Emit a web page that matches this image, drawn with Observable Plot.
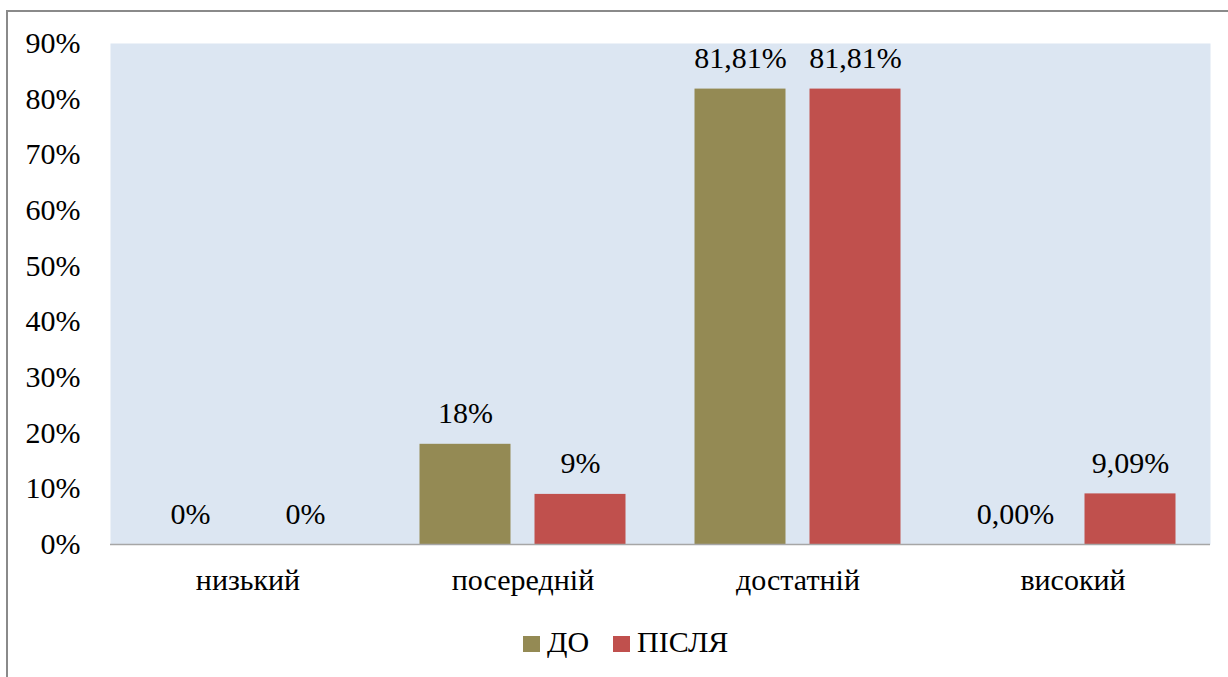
<!DOCTYPE html>
<html>
<head>
<meta charset="utf-8">
<script src="https://cdn.jsdelivr.net/npm/d3@7"></script>
<script src="https://cdn.jsdelivr.net/npm/@observablehq/plot@0.6"></script>
<style>
  html, body { margin: 0; padding: 0; background: #fff; }
  body { width: 1228px; height: 677px; position: relative; overflow: hidden; font-family: 'Liberation Serif', serif !important; }
  #border { position: absolute; left: 6px; top: 10px; width: 1240px; height: 700px; border-left: 2px solid #8a8a8a; border-top: 2px solid #8a8a8a; }
  #chart { position: absolute; left: 0; top: 0; }
  .legend { position: absolute; top: 625px; left: 0; width: 1228px; height: 34px; font-size: 30px; color: #000; }
  .sw { position: absolute; top: 11px; width: 17px; height: 16px; }
  .lt { position: absolute; top: 0; line-height: 34px; }
  svg, svg text, .legend, .lt { font-family: 'Liberation Serif', serif !important; }
</style>
</head>
<body>
<div id="border"></div>
<div id="chart"></div>
<div class="legend" id="legend"></div>
<script>
const categories = ["низький", "посередній", "достатній", "високий"];
const series = ["ДО", "ПІСЛЯ"];
const seriesColors = ["#948A54", "#C0504D"];
const beforeValues = [0, 18, 81.81, 0];
const afterValues = [0, 9, 81.81, 9.09];
const beforeLabels = ["0%", "18%", "81,81%", "0,00%"];
const afterLabels = ["0%", "9%", "81,81%", "9,09%"];
const yTicks = [0, 10, 20, 30, 40, 50, 60, 70, 80, 90];

const before = categories.map((c, i) => ({cat: c, v: beforeValues[i], label: beforeLabels[i]}));
const after = categories.map((c, i) => ({cat: c, v: afterValues[i], label: afterLabels[i]}));

const chart = Plot.plot({
  width: 1228,
  height: 600,
  marginLeft: 110,
  marginRight: 18,
  marginTop: 43,
  marginBottom: 56,
  style: {fontFamily: "serif", fontSize: "30px", color: "#000", background: "transparent"},
  x: {domain: categories, padding: 0, label: null, tickSize: 0, tickPadding: 24},
  y: {domain: [0, 90], ticks: yTicks, tickFormat: d => d + "%", tickSize: 0, tickPadding: 30, label: null},
  marks: [
    Plot.frame({fill: "#DCE6F2", stroke: "none"}),
    Plot.barY(before, {x: "cat", y: "v", fill: seriesColors[0], insetLeft: 34.5, insetRight: 149.5}),
    Plot.barY(after, {x: "cat", y: "v", fill: seriesColors[1], insetLeft: 149.5, insetRight: 34.5}),
    Plot.ruleY([0], {stroke: "#a6a6a6", strokeWidth: 1.5}),
    Plot.text(before, {x: "cat", y: "v", text: "label", dx: -57.5, dy: -21, lineAnchor: "bottom", fill: "#000", fontSize: 30, fontFamily: "serif"}),
    Plot.text(after, {x: "cat", y: "v", text: "label", dx: 57.5, dy: -21, lineAnchor: "bottom", fill: "#000", fontSize: 30, fontFamily: "serif"})
  ]
});
chart.querySelectorAll("text, g").forEach(el => el.setAttribute("font-family", "serif"));
document.getElementById("chart").appendChild(chart);

const legend = document.getElementById("legend");
const legendPos = [[523, 547], [613, 637]];
series.forEach((s, i) => {
  const sw = document.createElement("div");
  sw.className = "sw";
  sw.style.left = legendPos[i][0] + "px";
  sw.style.background = seriesColors[i];
  legend.appendChild(sw);
  const t = document.createElement("div");
  t.className = "lt";
  t.style.left = legendPos[i][1] + "px";
  t.style.fontFamily = "'Liberation Serif', serif";
  t.textContent = s;
  legend.appendChild(t);
});
</script>
</body>
</html>
